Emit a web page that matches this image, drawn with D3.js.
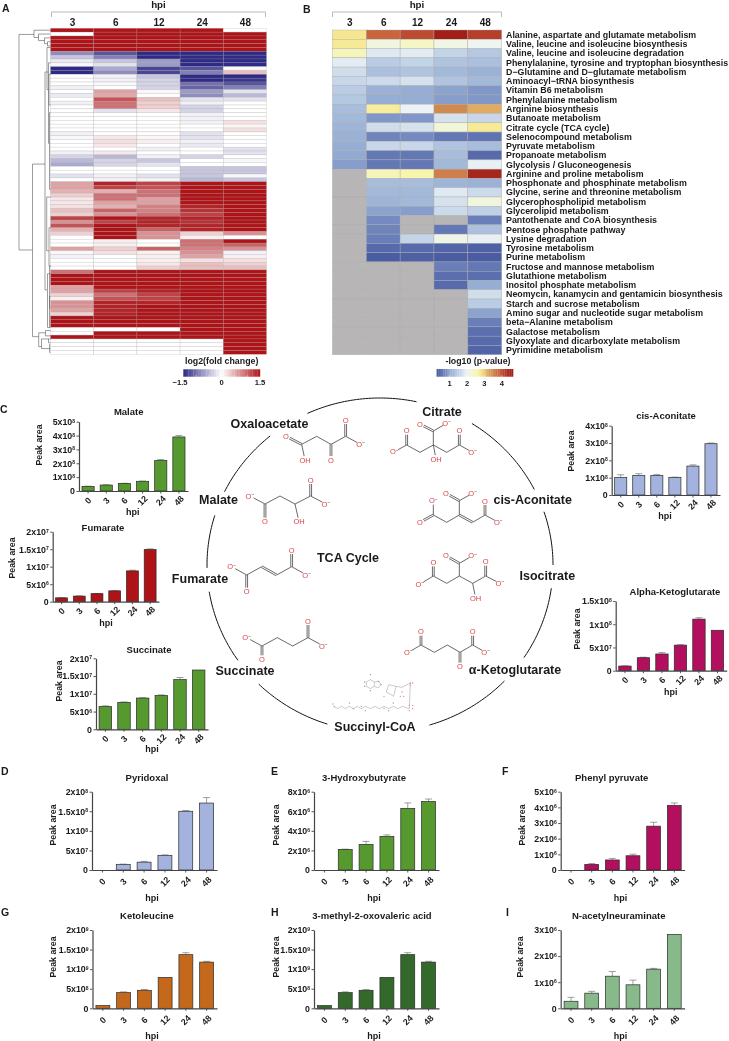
<!DOCTYPE html>
<html lang="en">
<head>
<meta charset="UTF-8">
<script src="https://d3js.org/d3.v7.min.js"></script>
<title>Metabolomics panels</title>
<style>
html, body { margin: 0; background: #fff; }
svg { display: block; filter: blur(.3px); }
text { font-family: "Liberation Sans", Arial, sans-serif; fill: #1a1a1a; }
.b { font-weight: bold; }
</style>
</head>
<body>
<script>

// ---- panel A: log2(fold change), rows top to bottom, columns 3 6 12 24 48 hpi
var hpiCols = ["3", "6", "12", "24", "48"];
var foldRows = [
  [1.5,1.5,1.5,1.5,0],[0,1.5,1.5,1.5,1.5],[1.5,1.5,1.5,1.5,1.5],[1.5,1.5,1.5,1.5,1.5],[1.5,1.5,1.5,1.5,1.5],[1.5,1.5,1.5,1.5,1.5],
  [-.8,-1.2,-1.5,-1.5,-1.5],[-.4,-.9,-1.5,-1.5,-1.5],[-.15,-.4,-.7,-1.5,-1.5],[-.05,-.2,-.7,-1.5,-1.5],
  [-1.5,-.6,-1.3,-1.2,-.05],[-1.5,-.8,-1.3,-.9,.4],[0,-.1,-.4,-1.5,-1.5],[0,-.1,-.3,-1.5,-1.4],[0,-.05,-.3,-1,-1.2],[-.1,0,-.3,-1.1,-.9],
  [0,.6,.05,-.7,-.2],[-.15,.55,0,-.8,-.5],[0,1.1,.4,-.2,-.2],[-.1,.9,.3,-.1,0],[0,.9,.3,-.3,0],[0,-.2,.15,-.3,0],
  [0,0,0,-.1,0],[0,0,0,-.1,0],[0,0,0,-.1,.2],[0,0,0,0,.05],[0,0,0,0,.2],[-.1,0,0,-.2,0],[-.05,.15,.05,-.2,0],[0,.2,.1,-.1,0],[0,.15,0,-.15,0],
  [0,0,-.1,0,-.2],[-.1,.15,0,0,-.2],[-.3,-.5,-.1,-.3,0],[-.5,-.3,-.4,0,-.05],[-.6,-.3,-.2,0,0],[0,0,0,-.4,-.4],[0,0,0,-.4,-.4],[-.2,-.1,-.2,-.4,-.05],[0,-.1,-.1,-.5,-.4],
  [.6,1.4,1.2,1.5,1.5],[.6,1.2,1.1,1.5,1.5],[.5,.5,.9,1.5,1.5],[.3,.9,.9,1.5,1.5],[.15,.9,.6,1.5,1.5],[.15,.6,.6,1.5,1.5],[.2,.5,.8,1.4,1.5],[.4,1,.8,1.3,1.5],[.3,.7,.9,1.2,1.5],
  [1.2,1.5,1.4,1.4,1.5],[.7,1.2,1.4,1.3,1.5],[1.1,1.5,1.4,1.4,1.5],[.5,1.5,1,1.4,1.5],[.3,1.5,.7,.3,.7],[0,1.5,.7,.1,0],
  [0,.1,0,.9,1.5],[0,.1,0,.9,1],[.6,.3,1,.8,.7],[.05,.2,.1,.7,-.1],[-.1,0,.1,.6,.1],[0,0,.1,.2,.2],[0,0,.15,.4,.3],[0,0,.3,.4,.4],
  [.9,1.5,1.5,1.5,1.5],[1.5,1.5,1.5,1.5,1.5],[1.5,1.5,1.5,1.5,1.5],[1.5,1.5,1.5,1.5,1.5],
  [.6,1.5,1.5,1.5,1.5],[.6,1.2,1.4,1.5,1.5],[.3,.9,1.2,1.5,1.5],[.1,1.1,1.2,1.5,1.5],[.7,1.4,1.4,1.5,1.5],[.7,1.4,1.5,1.5,1.5],[.6,1.4,1.5,1.5,1.5],[.3,1.4,1.5,1.5,1.5],
  [1.5,1.5,1.5,1.5,1.5],[1.5,1.5,1.5,1.5,1.5],[1.5,1.5,1.5,1.5,1.5],
  [0,0,0,1.5,1.5],[0,1.5,1.5,1.5,1.5],[1.5,1.5,1.5,1.5,1.5],
  [0,0,0,0,1.5],[0,0,0,0,1.5],[0,0,0,0,1.5],[0,0,0,0,1.5]
];
// dendrogram joins: height, upper row, lower row, height of upper child, height of lower child
var dendroJoins = [
  [31.5,1.6,57.8,16.5,18],[16.5,.5,2.4,0,12],[12,1.5,3.2,0,6],[6,2.5,4,0,3],[3,3.5,4.6,0,0],
  [18,35.4,80.4,5.5,11.8],[5.5,11.4,68.2,2,3.5],[3.5,5,16,0,1.5],[2,9,30,0,1],[1,22,42,0,0],[1.5,12,20,0,0],
  [3.8,44,58,0,1.5],[1.5,52,62,0,0],[1,62,73,0,0],[3,64,78,0,1],[1,70,78,0,0],
  [11.8,79.4,83,5,9],[5,78.8,80.2,0,0],[9,81,83.5,2,0],[2,81,82,0,0],[1,82.5,84.5,0,0]
];

// ---- panel B: -log10(p-value), null = not detected
var pathways = ["Alanine, aspartate and glutamate metabolism","Valine, leucine and isoleucine biosynthesis","Valine, leucine and isoleucine degradation","Phenylalanine, tyrosine and tryptophan biosynthesis","D\u2212Glutamine and D\u2212glutamate metabolism","Aminoacyl\u2212tRNA biosynthesis","Vitamin B6 metabolism","Phenylalanine metabolism","Arginine biosynthesis","Butanoate metabolism","Citrate cycle (TCA cycle)","Selenocompound metabolism","Pyruvate metabolism","Propanoate metabolism","Glycolysis / Gluconeogenesis","Arginine and proline metabolism","Phosphonate and phosphinate metabolism","Glycine, serine and threonine metabolism","Glycerophospholipid metabolism","Glycerolipid metabolism","Pantothenate and CoA biosynthesis","Pentose phosphate pathway","Lysine degradation","Tyrosine metabolism","Purine metabolism","Fructose and mannose metabolism","Glutathione metabolism","Inositol phosphate metabolism","Neomycin, kanamycin and gentamicin biosynthesis","Starch and sucrose metabolism","Amino sugar and nucleotide sugar metabolism","beta\u2212Alanine metabolism","Galactose metabolism","Glyoxylate and dicarboxylate metabolism","Pyrimidine metabolism"];
var _ = null;
var pRows = [
  [2.8,3.85,4.05,4.6,4.15],[2.75,2.2,2.4,2.15,2.05],[2.5,1.85,1.9,1.55,1.4],[1.9,1.45,1.55,1.35,1.3],[1.7,1.3,1.35,1.2,1.1],
  [1.6,1.65,1.75,1.35,1.2],[1.45,1.1,1.05,.95,.85],[1.4,1.05,1.05,.9,.85],[1.25,2.7,2,3.5,3.2],[1.2,.85,.85,1.75,1.6],
  [1.15,1.7,1.75,2.25,2.75],[1.1,.7,.75,.6,.55],[1.05,1.6,1.6,1.35,1.25],[1,.6,.6,1.25,.45],[.9,.6,.6,1.2,1.95],
  [_,2.5,2.6,3.6,4.5],[_,1.25,1.25,1.15,1.1],[_,1.2,1.2,1.85,1.65],[_,1.15,1.2,1.75,2.2],[_,.95,.9,1.65,1.5],
  [_,.75,_,_,.65],[_,.7,_,.6,1.3],[_,.65,1.55,2.1,1.95],[_,.45,.45,.4,.35],[_,.3,.35,.3,.3],
  [_,_,_,.65,.6],[_,_,_,.5,.5],[_,_,_,.45,1.05],[_,_,_,_,1.7],[_,_,_,_,1.45],[_,_,_,_,.95],[_,_,_,_,.65],[_,_,_,_,.5],[_,_,_,_,.45],[_,_,_,_,.4]
];
var pStops = [.25,.6,1,1.5,2,2.3,2.6,2.8,3.2,3.5,3.85,4.15,4.65];
var pColors = ["#46579f","#6478b5","#92a9d2","#bdd0e6","#edf3f5","#f2f6d2","#f8f5ac","#f6e68f","#e2ab62","#d08a50","#c8653f","#b53f2b","#a01b15"];

// ---- bar panels
var hpi = ["0","3","6","12","24","48"];
var malateVals = [3.3e7,4.3e7,5.5e7,7e7,2.2e8,3.9e8], malateErr = [2e6,2e6,1e6,2e6,7e6,1e7];
var fumarateVals = [1.1e6,1.6e6,2.3e6,3.1e6,8.8e6,1.49e7], fumarateErr = [5e4,8e4,5e4,6e4,2e5,2e5];
var succinateVals = [6.4e6,7.6e6,8.8e6,9.5e6,1.4e7,1.67e7], succinateErr = [2e5,1e5,1e5,2e5,6e5,0];
var aconitateVals = [1.02e8,1.13e8,1.12e8,1.02e8,1.67e8,2.96e8], aconitateErr = [1.5e7,1e7,6e6,1e6,7e6,4e6];
var ketoglutarateVals = [1e7,2.8e7,3.6e7,5.5e7,1.11e8,8.7e7], ketoglutarateErr = [5e5,1e6,3e6,1e6,3e6,0];
var pyridoxalVals = [0,1.45e7,2e7,3.75e7,1.5e8,1.71e8], pyridoxalErr = [0,5e5,2e6,1e6,2e6,1.4e7];
var hydroxyVals = [0,2.11e6,2.62e6,3.44e6,6.3e6,7e6], hydroxyErr = [0,2e4,3e5,1.5e5,5.5e5,2.5e5];
var phenylVals = [0,3.6e5,6.4e5,9.1e5,2.8e6,4.13e6], phenylErr = [0,6e4,1e5,1e5,2.5e5,1.5e5];
var ketoleucineVals = [7e7,4e8,4.6e8,7.9e8,1.37e9,1.18e9], ketoleucineErr = [0,2e7,2e7,0,5e7,2e7];
var oxovalericVals = [7e7,4e8,4.6e8,7.9e8,1.37e9,1.18e9], oxovalericErr = [0,2e7,2e7,0,5e7,2e7];
var neuraminateVals = [2.7e5,5.8e5,1.23e6,9e5,1.5e6,2.83e6], neuraminateErr = [1.5e5,7e4,1.8e5,1.8e5,3e4,0];

var green = "#569a2f", red = "#ae1318", blue = "#a3b3de", magenta = "#b20f5f", orange = "#c4691b", dkgreen = "#33692b", sage = "#88b98a";

var charts = [
  {t:"Malate", v:malateVals, e:malateErr, ticks:[0,1e8,2e8,3e8,4e8,5e8], c:green, x0:79, x1:188, top:421.7, base:491, tx:128.7, ty:412, lx:39, ly:445, hx:132.7, hy:512, off:9.5},
  {t:"Fumarate", v:fumarateVals, e:fumarateErr, ticks:[0,5e6,1e7,1.5e7,2e7], c:red, x0:52.7, x1:159, top:531.7, base:601.7, tx:103, ty:528, lx:12, ly:558, hx:106, hy:622.7, off:9.5},
  {t:"Succinate", v:succinateVals, e:succinateErr, ticks:[0,5e6,1e7,1.5e7,2e7], c:green, x0:96, x1:208, top:658.3, base:729.3, tx:149, ty:650, lx:59, ly:681, hx:152, hy:749, off:9.5},
  {t:"cis-Aconitate", v:aconitateVals, e:aconitateErr, ticks:[0,1e8,2e8,3e8,4e8], c:blue, x0:611.7, x1:720, top:425.7, base:495, tx:666, ty:416, lx:570.7, ly:451, hx:665, hy:515.7, off:9.5},
  {t:"Alpha-Ketoglutarate", v:ketoglutarateVals, e:ketoglutarateErr, ticks:[0,5e7,1e8,1.5e8], c:magenta, x0:615.7, x1:726.7, top:601, base:670.7, tx:675, ty:591.7, lx:577, ly:629, hx:670.7, hy:691.7, off:9.5},
  {t:"Pyridoxal", v:pyridoxalVals, e:pyridoxalErr, ticks:[0,5e7,1e8,1.5e8,2e8], c:blue, x0:92, x1:217, top:791.7, base:870, tx:147, ty:778, lx:53, ly:825, hx:152, hy:898, off:11.7},
  {t:"3-Hydroxybutyrate", v:hydroxyVals, e:hydroxyErr, ticks:[0,2e6,4e6,6e6,8e6], c:green, x0:314, x1:439, top:791.7, base:870, tx:364, ty:778, lx:276, ly:825, hx:374, hy:898, off:11.7},
  {t:"Phenyl pyruvate", v:phenylVals, e:phenylErr, ticks:[0,1e6,2e6,3e6,4e6,5e6], c:magenta, x0:560.7, x1:684.6, top:791.7, base:870, tx:611.7, ty:778, lx:522, ly:825, hx:620.6, hy:898, off:11.7},
  {t:"Ketoleucine", v:ketoleucineVals, e:ketoleucineErr, ticks:[0,5e8,1e9,1.5e9,2e9], c:orange, x0:92.5, x1:217, top:930, base:1008.3, tx:147, ty:915.7, lx:52.8, ly:957, hx:152, hy:1036, off:11.7},
  {t:"3-methyl-2-oxovaleric acid", v:oxovalericVals, e:oxovalericErr, ticks:[0,5e8,1e9,1.5e9,2e9], c:dkgreen, x0:314, x1:439, top:930, base:1008.3, tx:372, ty:915.7, lx:275.7, ly:957, hx:374, hy:1036, off:11.7},
  {t:"N-acetylneuraminate", v:neuraminateVals, e:neuraminateErr, ticks:[0,1e6,2e6,3e6], c:sage, x0:560.7, x1:684.6, top:930, base:1008.3, tx:618.7, ty:915.7, lx:520, ly:957, hx:620.6, hy:1036, off:11.7}
];

// ---- TCA cycle schematic
var cycleNames = [
  ["Oxaloacetate",269.5,424],["Citrate",442,411.7],["cis-Aconitate",532.7,500],["Isocitrate",547.3,575.6],["\u03b1-Ketoglutarate",515,670],
  ["Succinyl-CoA",375,726.7],["Succinate",245,671],["Fumarate",200,579],["Malate",218.5,500],["TCA Cycle",348,558]
];
var cycleArcs = [[-114.8,-77.8],[-57.9,-26.9],[-18.6,0],[8,33.7],[44,73.4],[107.7,134.5],[145.2,170.8],[179,197.3],[206,230.6]];

// structures in crop pixels (3x) from an origin; atoms [x, y, label], bonds [a, b, order]
var molecules = [
  {o:[0,395], a:[[905,148],[950,124],[993,148],[1037,124],[858,124,"O"],[915,195,"OH"],[993,195,"O"],[1037,75,"O"],[1082,148,"O-"]],
   b:[[0,1,1],[1,2,1],[2,3,1],[0,4,2],[0,5,1],[2,6,2],[3,7,2],[3,8,1]]},
  {o:[0,395], a:[[795,327],[840,303],[885,327],[932,303],[750,303,"O-"],[795,380,"O"],[897,380,"OH"],[932,255,"O"],[978,327,"O-"]],
   b:[[0,1,1],[1,2,1],[2,3,1],[0,4,1],[0,5,2],[2,6,1],[3,7,2],[3,8,1]]},
  {o:[0,395], a:[[740,540],[785,515],[830,540],[875,515],[695,515,"O-"],[740,590,"O"],[875,465,"O"],[920,540,"O-"]],
   b:[[0,1,1],[1,2,2],[2,3,1],[0,4,1],[0,5,2],[3,6,2],[3,7,1]]},
  {o:[0,570], a:[[786,228],[832,203],[878,228],[924,203],[740,203,"O-"],[786,268,"O"],[924,153,"O"],[970,228,"O-"]],
   b:[[0,1,1],[1,2,1],[2,3,1],[0,4,1],[0,5,2],[3,6,2],[3,7,1]]},
  {o:[365,395], a:[[125,150],[165,172],[205,150],[245,172],[283,150],[205,108],[88,170,"O-"],[125,107,"O"],[213,192,"OH"],[165,87,"O"],[245,85,"O-"],[283,107,"O"],[323,172,"O-"]],
   b:[[0,1,1],[1,2,1],[2,3,1],[3,4,1],[2,5,1],[0,6,1],[0,7,2],[2,8,1],[5,9,2],[5,10,1],[4,11,2],[4,12,1]]},
  {o:[365,395], a:[[205,360],[245,382],[283,360],[323,382],[360,360],[283,317],[165,382,"O"],[205,317,"O-"],[243,295,"O"],[323,295,"O-"],[360,318,"O"],[400,382,"O-"]],
   b:[[0,1,1],[1,2,1],[2,3,2],[3,4,1],[2,5,1],[0,6,2],[0,7,1],[5,8,2],[5,9,1],[4,10,2],[4,11,1]]},
  {o:[365,570], a:[[205,18],[245,40],[283,18],[323,40],[362,18],[283,-20],[165,42,"O-"],[205,-23,"O"],[243,-43,"O"],[323,-43,"O-"],[332,85,"OH"],[362,-25,"O"],[405,40,"O-"]],
   b:[[0,1,1],[1,2,1],[2,3,1],[3,4,1],[2,5,1],[0,6,1],[0,7,2],[5,8,2],[5,9,1],[3,10,1],[4,11,2],[4,12,1]]},
  {o:[365,570], a:[[168,225],[208,247],[247,225],[285,247],[323,225],[130,247,"O-"],[168,185,"O"],[285,290,"O"],[323,185,"O"],[362,247,"O-"]],
   b:[[0,1,1],[1,2,1],[2,3,1],[3,4,1],[0,5,1],[0,6,2],[3,7,2],[4,8,2],[4,9,1]]}
];
// coenzyme A sketch, crop pixels from (322,668)
var coaChain = [[35,115],[47,122],[58,115],[70,122],[82,115],[94,122],[106,115],[118,122],[130,115],[145,122],[158,115],[172,122],[186,115],[200,122],[214,115],[228,122],[242,115],[262,122],[265,45],[240,58],[222,55],[200,50],[193,72],[215,85],[222,55]];
var coaRing = [[133,42],[145,35],[157,42],[157,55],[145,62],[133,55],[133,42]];
var coaRing2 = [[157,42],[170,40],[177,50],[168,60],[157,55]];
var coaRedDots = [[37,115],[33,108],[82,105],[130,128],[200,128],[214,105],[262,128],[272,122],[262,112],[272,112],[265,45],[272,45],[265,52],[235,85],[245,85],[186,85],[240,72]];
var coaBlueDots = [[145,20],[128,42],[128,55],[145,68],[170,40],[177,50],[94,122],[118,115],[186,122]];

var svg = d3.select("body").append("svg").attr("width", 729).attr("height", 1041);

function label(x, y, s, size, anchor, bold) {
  return svg.append("text").attr("x", x).attr("y", y).attr("dy", ".35em")
    .attr("text-anchor", anchor || "middle").attr("class", bold === false ? null : "b")
    .style("font-size", size + "px").text(s);
}

// panel letters
[["A",2,8.8],["B",303,9],["C",0,409.5],["D",1,771],["E",271,771],["F",502,771],["G",1,912],["H",271,912],["I",506,912]].forEach(function(d) {
  label(d[1], d[2], d[0], 10.5, "start");
});

// ---- heatmap helpers
function bracket(x0, x1, name, nameY) {
  svg.append("path").attr("d", "M" + x0 + ",17V12H" + x1 + "V17").attr("fill", "none").attr("stroke", "#aaa").attr("stroke-width", .8);
  label((x0 + x1) / 2, nameY, name, 9.8);
}

// ---- panel A
var ax = d3.scaleBand().domain(hpiCols).range([50.5, 266.5]);
var ay = d3.scaleBand().domain(d3.range(foldRows.length)).range([28.3, 354.3]);
var foldColor = d3.scaleLinear().domain([-1.5, 0, 1.5]).range(["#2e2a85", "#ffffff", "#ae1318"]);

bracket(51.5, 265.5, "hpi", 4.5);
hpiCols.forEach(function(c) { label(ax(c) + ax.bandwidth() / 2 + 0.5, 22.3, c, 10); });

var aRow = svg.append("g").selectAll("g").data(foldRows).join("g")
    .attr("transform", function(d, i) { return "translate(0," + ay(i) + ")"; });
aRow.selectAll("rect").data(function(d) { return d; }).join("rect")
    .attr("x", function(d, i) { return ax(hpiCols[i]); })
    .attr("width", ax.bandwidth())
    .attr("height", ay.bandwidth())
    .attr("fill", function(d) { return foldColor(d); })
    .attr("stroke", "#a0a0a0").attr("stroke-opacity", .45).attr("stroke-width", .5);

// dendrogram
var dx = d3.scaleLinear().domain([0, 31.5]).range([50.5, 19]);
var dy = function(r) { return ay(0) + r * ay.step(); };
svg.append("g").selectAll("path").data(dendroJoins).join("path")
    .attr("d", function(d) {
      return "M" + dx(d[3]) + "," + dy(d[1]) + "H" + dx(d[0]) + "V" + dy(d[2]) + "H" + dx(d[4]);
    })
    .attr("fill", "none").attr("stroke", "#666").attr("stroke-width", .65);

// legend A
var foldLegend = d3.scaleLinear().domain([-1.5, 1.5]).range([183.3, 260]);
svg.append("g").selectAll("rect").data(d3.range(-1.5, 1.5, .1)).join("rect")
    .attr("x", function(d) { return foldLegend(d); }).attr("y", 369.3)
    .attr("width", foldLegend(.1) - foldLegend(0) + .2).attr("height", 7.4)
    .attr("fill", function(d) { return foldColor(d + .05); });
[-1, -.5, .5, 1].forEach(function(v) {
  svg.append("line").attr("x1", foldLegend(v)).attr("x2", foldLegend(v)).attr("y1", 375.3).attr("y2", 376.7).attr("stroke", "#fff").attr("stroke-width", .6);
});
[[-1.5, "\u22121.5", 180], [0, "0", 221.7], [1.5, "1.5", 260]].forEach(function(d) { label(d[2], 382.7, d[1], 7.6); });
label(221.7, 361, "log2(fold change)", 8.8);

// ---- panel B
var bx = d3.scaleBand().domain(hpiCols).range([332.4, 501.7]);
var by = d3.scaleBand().domain(pathways).range([30, 354.7]);
var pColor = d3.scaleLinear().domain(pStops).range(pColors);

bracket(332.5, 501.5, "hpi", 4.5);
hpiCols.forEach(function(c) { label(bx(c) + bx.bandwidth() / 2 + 0.5, 22.3, c, 10); });

svg.append("g").selectAll("g").data(pRows).join("g")
    .attr("transform", function(d, i) { return "translate(0," + by(pathways[i]) + ")"; })
  .selectAll("rect").data(function(d) { return d; }).join("rect")
    .attr("x", function(d, i) { return bx(hpiCols[i]); })
    .attr("width", bx.bandwidth())
    .attr("height", by.bandwidth())
    .attr("fill", function(d) { return d === null ? "#b7b5b5" : pColor(d); })
    .attr("stroke", "#aaa").attr("stroke-width", .4);

pathways.forEach(function(p) { label(506, by(p) + by.bandwidth() / 2, p, 8.85, "start"); });

// legend B
var pLegend = d3.scaleLinear().domain([1, 4]).range([449.6, 501.8]);
svg.append("g").selectAll("rect").data(d3.range(.25, 4.65, .1)).join("rect")
    .attr("x", function(d) { return pLegend(d); }).attr("y", 369)
    .attr("width", pLegend(.1) - pLegend(0) + .2).attr("height", 7.7)
    .attr("fill", function(d) { return pColor(d + .05); });
[1, 2, 3, 4].forEach(function(v) {
  svg.append("line").attr("x1", pLegend(v)).attr("x2", pLegend(v)).attr("y1", 375.3).attr("y2", 376.7).attr("stroke", "#fff").attr("stroke-width", .6);
  label(pLegend(v), 383, v, 7.6);
});
label(478, 361, "-log10 (p-value)", 8.8);

// ---- bar charts
function sciLabel(sel, v) {
  sel.text(null);
  if (v === 0) { sel.text("0"); return; }
  var e = Math.floor(Math.log10(v) + 1e-9), m = +(v / Math.pow(10, e)).toFixed(1);
  sel.append("tspan").text(m + "x10");
  sel.append("tspan").attr("dy", "-.45em").style("font-size", "5px").text(e);
}

charts.forEach(function(c) {
  var x = d3.scaleBand().domain(hpi).range([c.x0, c.x1]).paddingInner(.33).paddingOuter(.165);
  var y = d3.scaleLinear().domain([0, d3.max(c.ticks)]).range([c.base, c.top]);
  var g = svg.append("g");

  g.selectAll(".err").data(c.v).join("path").attr("class", "err")
      .attr("display", function(d, i) { return c.e[i] > 0 ? null : "none"; })
      .attr("d", function(d, i) {
        var cx = x(hpi[i]) + x.bandwidth() / 2, yt = y(d + c.e[i]);
        return "M" + cx + "," + y(d) + "V" + yt + "M" + (cx - 3.5) + "," + yt + "H" + (cx + 3.5);
      })
      .attr("fill", "none").attr("stroke", "#777").attr("stroke-width", .7);

  g.selectAll(".bar").data(c.v).join("rect").attr("class", "bar")
      .attr("display", function(d) { return d > 0 ? null : "none"; })
      .attr("x", function(d, i) { return x(hpi[i]); })
      .attr("y", function(d) { return y(d); })
      .attr("width", x.bandwidth())
      .attr("height", function(d) { return c.base - y(d); })
      .attr("fill", c.c).attr("stroke", "#2a2a2a").attr("stroke-width", .7);

  var ya = g.append("g").attr("transform", "translate(" + c.x0 + ",0)")
      .call(d3.axisLeft(y).tickValues(c.ticks).tickSize(2.5).tickSizeOuter(0).tickPadding(1.5));
  ya.selectAll(".tick text").each(function(v) { sciLabel(d3.select(this), v); })
      .attr("class", "b").style("font-size", "8.8px");

  var xa = g.append("g").attr("transform", "translate(0," + c.base + ")")
      .call(d3.axisBottom(x).tickSize(2.5).tickSizeOuter(0));
  xa.selectAll(".tick text")
      .attr("class", "b").style("font-size", "8.8px")
      .attr("text-anchor", "middle").attr("x", 0).attr("y", c.off).attr("dy", ".35em")
      .style("transform-box", "view-box")
      .attr("transform", "rotate(-45 0 " + c.off + ")");

  g.selectAll(".domain, .tick line").attr("stroke", "#444").attr("stroke-width", .9);
  g.selectAll(".domain").attr("stroke-width", 1.2);

  label(c.tx, c.ty, c.t, 9.5);
  label(c.hx, c.hy, "hpi", 9);
  svg.append("text").attr("class", "b").attr("text-anchor", "middle").attr("dy", ".35em")
      .attr("transform", "translate(" + c.lx + "," + c.ly + ") rotate(-90)")
      .style("font-size", "8.8px").text("Peak area");
});

// ---- TCA cycle
var cycle = d3.line()
    .x(function(t) { return 380 + 173 * Math.cos(t * Math.PI / 180); })
    .y(function(t) { return 565 + 167 * Math.sin(t * Math.PI / 180); });
svg.append("g").selectAll("path").data(cycleArcs).join("path")
    .attr("d", function(d) { return cycle(d3.range(d[0], d[1], 1).concat(d[1])); })
    .attr("fill", "none").attr("stroke", "#111").attr("stroke-width", 1);
cycleNames.forEach(function(d) { label(d[1], d[2], d[0], 12.5); });

var atomRed = "#d8434a";
molecules.forEach(function(m) {
  var px = function(a) { return [m.o[0] + a[0] / 3, m.o[1] + a[1] / 3]; };
  var g = svg.append("g");
  m.b.forEach(function(b) {
    var p = px(m.a[b[0]]), q = px(m.a[b[1]]);
    var len = Math.hypot(q[0] - p[0], q[1] - p[1]), ux = (q[0] - p[0]) / len, uy = (q[1] - p[1]) / len;
    var trim = m.a[b[1]][2] ? 4 : 0;
    var ex = q[0] - ux * trim, ey = q[1] - uy * trim;
    (b[2] === 2 ? [-.9, .9] : [0]).forEach(function(o) {
      g.append("line")
        .attr("x1", p[0] - uy * o).attr("y1", p[1] + ux * o)
        .attr("x2", ex - uy * o).attr("y2", ey + ux * o)
        .attr("stroke", "#2a2a2a").attr("stroke-width", .7);
    });
  });
  m.a.filter(function(a) { return a[2]; }).forEach(function(a) {
    var p = px(a), t = g.append("text").attr("x", p[0]).attr("y", p[1]).attr("dy", ".35em")
        .attr("text-anchor", "middle").style("font-size", "7.5px");
    t.append("tspan").style("fill", atomRed).text(a[2].replace("-", ""));
    if (a[2].indexOf("-") > 0) t.append("tspan").attr("dy", "-.5em").style("font-size", "5px").style("fill", "#333").text("\u2212");
  });
});

// coenzyme A sketch
var coaX = d3.scaleLinear().domain([0, 300]).range([322, 422]);
var coaY = d3.scaleLinear().domain([0, 156]).range([668, 720]);
var coaLine = d3.line().x(function(d) { return coaX(d[0]); }).y(function(d) { return coaY(d[1]); });
var coa = svg.append("g");
[coaChain, coaRing, coaRing2].forEach(function(pts) {
  coa.append("path").attr("d", coaLine(pts)).attr("fill", "none").attr("stroke", "#8a8a8a").attr("stroke-width", .45);
});
coa.selectAll(".r").data(coaRedDots).join("circle").attr("class", "r")
    .attr("cx", function(d) { return coaX(d[0]); }).attr("cy", function(d) { return coaY(d[1]); })
    .attr("r", .7).attr("fill", "#d98a8a");
coa.selectAll(".n").data(coaBlueDots).join("circle").attr("class", "n")
    .attr("cx", function(d) { return coaX(d[0]); }).attr("cy", function(d) { return coaY(d[1]); })
    .attr("r", .7).attr("fill", "#8f93c9");

</script>
</body>
</html>
